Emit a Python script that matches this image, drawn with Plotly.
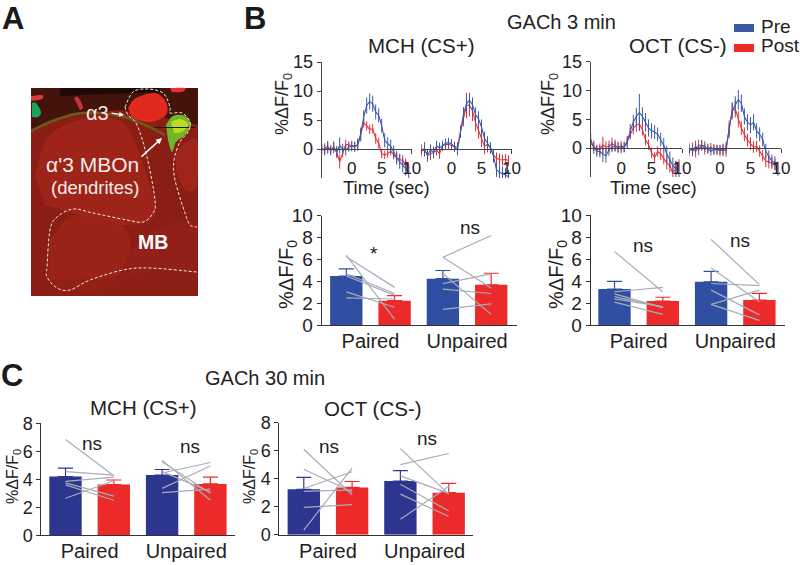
import plotly.graph_objects as go

W, H = 800, 565
FONT = "Liberation Sans"
INK = "#222222"
BLUE_B = "#2f50a2"
BLUE_C = "#2c3590"
RED = "#ec2a2a"
LINE_BLUE = "#3c59a8"
LINE_RED = "#e6303a"
GREY = "#a9adb8"

# ---- time courses (sec, %dF/F0) ----
time_s = [-5, -4.5, -4, -3.5, -3, -2.5, -2, -1.5, -1, -0.5, 0, 0.5, 1, 1.5, 2, 2.5, 3, 3.5, 4, 4.5,
          5, 5.5, 6, 6.5, 7, 7.5, 8, 8.5, 9, 9.5]

mch_paired_pre = [0, -0.2, 0.2, -0.3, 0.3, -0.5, 0.6, 0, -0.2, 0.3, 0.5, 0.4, 0.8, 2.5, 5.5, 7.5, 8.2, 7.8, 6.4, 5.8,
                  4.0, 1.5, 0.9, 0.5, -0.5, -1.5, -2.2, -2.8, -3.3, -4.0]
mch_paired_pre_err = [0.8, 0.9, 1.0, 0.8, 1.0, 1.0, 1.4, 0.9, 0.9, 0.8, 0.9, 0.9, 1.0, 1.2, 1.2, 1.4, 1.4, 1.4, 1.3, 1.2,
                      1.2, 1.2, 1.1, 1.1, 1.1, 1.2, 1.2, 1.2, 1.3, 1.3]
mch_paired_post = [0, 0.1, 0.4, -0.1, 0.3, -0.6, -2.2, -0.5, 0.8, 0.7, 0.6, 0.5, 0.6, 2.5, 4.5, 4.0, 3.4, 3.5, 1.8, 1.0,
                   -0.8, -1.0, -0.8, -0.4, -1.0, -1.5, -1.8, -2.0, -2.6, -3.3]
mch_paired_post_err = [0.8, 0.9, 1.0, 0.8, 0.8, 0.9, 1.2, 0.9, 0.8, 0.6, 0.7, 0.7, 0.9, 0.9, 0.8, 0.8, 0.8, 0.8, 0.9, 0.9,
                       0.8, 0.7, 0.7, 0.7, 0.8, 0.9, 1.0, 1.0, 1.0, 1.0]

mch_unpaired_pre = [0, -0.3, -1.0, -0.2, -0.6, 0.5, 0.2, 0.6, 1.0, 1.1, 0.9, 0.3, -0.2, 3, 6, 7.8, 8.4, 7.6, 6, 5.2,
                    3.8, 1.8, 1, 0.2, -1.2, -3.6, -4.0, -4.2, -4.5, -4.8]
mch_unpaired_pre_err = [0.9, 1.0, 1.0, 1.0, 1.0, 0.9, 0.9, 0.8, 0.8, 0.8, 0.8, 0.8, 0.9, 1.1, 1.2, 1.3, 1.3, 1.3, 1.2, 1.3,
                        1.3, 1.2, 1.1, 1.0, 1.1, 1.2, 1.2, 1.2, 1.2, 1.2]
mch_unpaired_post = [-0.4, 0.1, -1.2, -0.8, -0.6, -0.2, -0.8, 0.5, 0.8, 0.8, 0.6, 0.5, 0.3, 3, 5.5, 7.5, 7.6, 6.6, 4.6, 3.2,
                     1.6, 0.5, 0.8, 0.2, -1, -1.6, -1.8, -1.9, -1.8, -2.0]
mch_unpaired_post_err = [1.0, 1.1, 1.0, 1.1, 1.0, 0.9, 0.9, 0.9, 0.8, 0.8, 0.8, 0.8, 0.9, 1.0, 1.6, 2.2, 2.0, 1.8, 1.6, 1.4,
                         1.3, 1.4, 1.4, 1.0, 1.0, 1.0, 1.0, 0.9, 0.9, 0.9]

oct_paired_pre = [1.5, 0, -0.5, -0.6, -1.0, -1.3, -0.3, 0.2, 0.3, 0.2, 0, 0.2, 1, 3, 4.5, 5.5, 6.2, 5.5, 4.5, 3.5,
                  3, 2.8, 2.4, 1.5, 0.5, -1, -2, -3, -3.6, -3.8]
oct_paired_pre_err = [1.0, 1.0, 1.0, 1.0, 1.4, 1.2, 1.0, 0.9, 0.9, 0.9, 0.9, 0.9, 1.0, 1.2, 1.3, 1.5, 3.2, 1.6, 1.6, 1.5,
                      1.3, 1.2, 1.2, 1.2, 1.3, 1.4, 1.4, 1.4, 1.4, 1.4]
oct_paired_post = [0.8, 0.4, -0.3, -0.2, 0.6, 0.2, 0.3, 0.7, 0.5, 0.1, 0.4, 0.2, 1.2, 2.5, 3.5, 4, 4.2, 3.2, 1.5, 0.6,
                   -0.8, -1.6, -0.6, -1, -1.8, -2.6, -3, -4.4, -3.4, -3]
oct_paired_post_err = [0.8, 0.9, 0.9, 1.0, 1.4, 1.0, 1.0, 1.1, 1.0, 0.9, 0.9, 0.9, 0.9, 1.0, 1.1, 1.2, 1.2, 1.0, 1.0, 0.9,
                       0.9, 0.9, 0.9, 1.0, 1.0, 1.1, 1.2, 1.2, 1.2, 1.1]

oct_unpaired_pre = [0, -0.5, 0.3, -0.3, 0.5, 0.3, -0.2, -0.5, -0.3, -0.2, -0.3, -0.3, 0, 3, 6.5, 7.5, 8.4, 7.8, 5.5, 4.5,
                    4, 4.5, 3, 2.4, 1.5, -0.5, -1.5, -2.2, -2.6, -3.6]
oct_unpaired_pre_err = [0.9, 0.9, 1.0, 0.9, 0.9, 0.9, 0.8, 0.8, 0.8, 0.8, 0.8, 0.9, 1.0, 1.2, 1.3, 1.5, 1.7, 1.5, 1.4, 1.4,
                        1.4, 1.4, 1.3, 1.2, 1.2, 1.2, 1.1, 1.1, 1.2, 1.2]
oct_unpaired_post = [-0.4, 0, -0.6, 0.5, 0.5, -0.2, 0, 0.1, -0.2, -0.3, -0.4, -0.3, -0.4, 3.5, 6.5, 6.8, 5, 3.5, 2.4, 1.4,
                     0.8, 0.2, 0.3, -0.5, -1.3, -2.2, -2.4, -2.6, -2.8, -3.2]
oct_unpaired_post_err = [1.0, 1.0, 1.0, 1.0, 0.9, 0.9, 0.8, 0.8, 0.9, 0.9, 1.0, 1.1, 1.1, 1.3, 1.5, 1.5, 1.4, 1.2, 1.2, 1.1,
                         1.1, 1.0, 1.0, 1.0, 1.0, 1.1, 1.1, 1.0, 0.9, 0.9]

# ---- bar panels: [paired pre, paired post, unpaired pre, unpaired post] ----
bar_positions = [0, 1, 2, 3]
group_names = ["Paired", "Unpaired"]

b_mch_means = [4.5, 2.25, 4.25, 3.7]
b_mch_errs = [0.65, 0.45, 0.75, 1.05]
b_mch_pairs = [(6.26, 3.46), (6.4, 0.55), (4.7, 2.9), (4.5, 2.75), (3.05, 1.65), (2.5, 2.4)]
b_mch_unpairs = [(6.2, 8.2), (6.2, 3.4), (4.7, 1.0), (3.8, 4.7), (3.3, 2.9), (1.45, 1.95)]

b_oct_means = [3.3, 2.2, 3.95, 2.3]
b_oct_errs = [0.7, 0.35, 0.95, 0.6]
b_oct_pairs = [(6.7, 3.05), (3.05, 3.45), (2.85, 1.6), (2.6, 1.65), (2.4, 1.7), (2.1, 1.0)]
b_oct_unpairs = [(7.8, 3.7), (5.2, 2.15), (3.8, 3.6), (3.2, 0.95), (1.9, 3.2), (1.9, 0.45)]

c_mch_means = [4.2, 3.62, 4.3, 3.67]
c_mch_errs = [0.6, 0.33, 0.4, 0.48]
c_mch_pairs = [(6.85, 4.25), (4.55, 4.3), (3.85, 4.15), (3.75, 2.8), (3.6, 2.5), (2.65, 3.9)]
c_mch_unpairs = [(5.35, 2.5), (5.25, 3.0), (4.55, 3.1), (4.45, 5.2), (3.35, 4.95), (3.05, 3.3)]

c_oct_means = [3.24, 3.38, 3.83, 3.0]
c_oct_errs = [0.86, 0.42, 0.74, 0.67]
c_oct_pairs = [(6.1, 2.85), (4.67, 3.05), (3.3, 4.5), (3.1, 3.2), (1.95, 2.15), (0.33, 4.75)]
c_oct_unpairs = [(6.15, 2.9), (5.0, 5.8), (4.2, 2.95), (3.6, 1.7), (2.9, 1.3), (1.1, 3.45)]

fig = go.Figure()
shapes, notes = [], []
axis_count = [0]


def px(x):
    return x / W


def py(y):
    return 1 - y / H


def new_axes(x0, x1, y_top, y_bottom):
    axis_count[0] += 1
    n = axis_count[0]
    xname = "x" if n == 1 else f"x{n}"
    yname = "y" if n == 1 else f"y{n}"
    xkey = "xaxis" if n == 1 else f"xaxis{n}"
    ykey = "yaxis" if n == 1 else f"yaxis{n}"
    return xname, yname, xkey, ykey, [px(x0), px(x1)], [py(y_bottom), py(y_top)]


def text(x, y, s, size, angle=0, bold=False, color=INK, xanchor="center"):
    notes.append(dict(x=px(x), y=py(y), xref="paper", yref="paper", text=f"<b>{s}</b>" if bold else s,
                      showarrow=False, textangle=angle, xanchor=xanchor, yanchor="middle",
                      font=dict(family=FONT, size=size, color=color)))


def time_panel(x0, x1, y_top, y_bottom, pre, pre_err, post, post_err, with_y):
    xname, yname, xkey, ykey, xd, yd = new_axes(x0, x1, y_top, y_bottom)
    for vals, errs, col, nm in [(post, post_err, LINE_RED, "Post"), (pre, pre_err, LINE_BLUE, "Pre")]:
        fig.add_trace(go.Scatter(x=time_s, y=vals, mode="lines", name=nm, xaxis=xname, yaxis=yname, showlegend=False,
                                 cliponaxis=False, line=dict(color=col, width=1.1),
                                 error_y=dict(type="data", array=errs, visible=True, color=col, thickness=1, width=0)))
    zero_pos = py(y_top + (y_bottom - y_top) * 15 / 20)
    fig.update_layout({
        xkey: dict(domain=xd, range=[-5, 10], anchor="free", position=zero_pos, tickmode="array", tickvals=[0, 5, 10],
                   ticktext=["0", "5", "10"], ticks="", ticklabelstandoff=4, showline=True,
                   automargin=False, linecolor="#444444", linewidth=1, showgrid=False, zeroline=False,
                   tickfont=dict(family=FONT, size=17, color=INK),
                   minor=dict(tickmode="array", tickvals=[-5, 10], ticks="outside", ticklen=4, tickcolor="#444444")),
        ykey: dict(domain=yd, range=[-5, 15], anchor=xname, tickmode="array", tickvals=[0, 5, 10, 15], visible=with_y,
                   automargin=False, ticks="outside", ticklen=4, tickcolor="#444444", showline=True, linecolor="#444444",
                   linewidth=1, showgrid=False, zeroline=False, tickfont=dict(family=FONT, size=18, color=INK)),
    })


def bar_panel(x_left, x_right, first_center, spacing, y_top, y_zero, y_max, ticks, means, errs, pairs, unpairs, blue,
              font_size):
    xname, yname, xkey, ykey, xd, yd = new_axes(x_left, x_right, y_top, y_zero)
    colors = [blue, RED, blue, RED]
    fig.add_trace(go.Bar(x=bar_positions, y=means, width=0.67, xaxis=xname, yaxis=yname, showlegend=False,
                         marker=dict(color=colors, line=dict(width=0))))
    for xpos, m, e, c in zip(bar_positions, means, errs, colors):
        fig.add_trace(go.Scatter(x=[xpos], y=[m], mode="markers", marker=dict(size=1, color=c), xaxis=xname, yaxis=yname,
                                 showlegend=False, cliponaxis=False,
                                 error_y=dict(type="data", symmetric=False, array=[e], arrayminus=[0], color=c,
                                              thickness=1.2, width=7.5)))
    for (a, b), offset in [(p, 0) for p in pairs] + [(p, 2) for p in unpairs]:
        fig.add_trace(go.Scatter(x=[bar_positions[offset], bar_positions[offset + 1]], y=[a, b], mode="lines",
                                 xaxis=xname, yaxis=yname, showlegend=False, cliponaxis=False,
                                 line=dict(color=GREY, width=1.2)))
    fig.update_layout({
        xkey: dict(domain=xd, range=[(x_left - first_center) / spacing, (x_right - first_center) / spacing], anchor=yname,
                   automargin=False, tickmode="array", tickvals=[0.5, 2.5], ticktext=group_names, ticks="", showline=True,
                   linecolor="#333333", linewidth=1, showgrid=False, zeroline=False, ticklabelstandoff=-2,
                   tickfont=dict(family=FONT, size=20, color=INK)),
        ykey: dict(domain=yd, range=[0, y_max], anchor=xname, tickmode="array", tickvals=ticks, ticks="outside", ticklen=4,
                   automargin=False, tickcolor="#333333", showline=True, linecolor="#333333", linewidth=1, showgrid=False,
                   zeroline=False, tickfont=dict(family=FONT, size=font_size, color=INK)),
    })


# Panel B time courses
time_panel(321.7, 411.7, 62, 178, mch_paired_pre, mch_paired_pre_err, mch_paired_post, mch_paired_post_err, True)
time_panel(421.5, 511.5, 62, 178, mch_unpaired_pre, mch_unpaired_pre_err, mch_unpaired_post, mch_unpaired_post_err, False)
time_panel(590.7, 682, 61.7, 177, oct_paired_pre, oct_paired_pre_err, oct_paired_post, oct_paired_post_err, True)
time_panel(689.5, 781, 61.7, 177, oct_unpaired_pre, oct_unpaired_pre_err, oct_unpaired_post, oct_unpaired_post_err, False)

# Panel B bars
bar_panel(321.7, 516.7, 346.3, 48.3, 215.7, 325.3, 10, [0, 2, 4, 6, 8, 10], b_mch_means, b_mch_errs, b_mch_pairs,
          b_mch_unpairs, BLUE_B, 19)
bar_panel(590.7, 785, 614.5, 48.3, 215.3, 325.3, 10, [0, 2, 4, 6, 8, 10], b_oct_means, b_oct_errs, b_oct_pairs,
          b_oct_unpairs, BLUE_B, 19)

# Panel C bars
bar_panel(41.3, 235, 65.5, 48.3, 423.3, 535.3, 8, [0, 2, 4, 6, 8], c_mch_means, c_mch_errs, c_mch_pairs, c_mch_unpairs,
          BLUE_C, 18)
bar_panel(279.3, 473.3, 303.8, 48.3, 422.7, 534.7, 8, [0, 2, 4, 6, 8], c_oct_means, c_oct_errs, c_oct_pairs,
          c_oct_unpairs, BLUE_C, 18)

# Text
for s, x, y in [("A", 13, 18), ("B", 255, 18), ("C", 12, 375)]:
    text(x, y, s, 31, bold=True, color="#1a1a1a")
text(561, 22, "GACh 3 min", 20)
text(420.7, 45, "MCH (CS+)", 20.5)
text(677.7, 45, "OCT (CS-)", 20.5)
text(386, 188, "Time (sec)", 18.5)
text(653, 188, "Time (sec)", 18.5)
text(265, 378, "GACh 30 min", 20)
text(142.7, 407.5, "MCH (CS+)", 20.5)
text(373, 408, "OCT (CS-)", 20.5)
ytitle = "%ΔF/F<sub>0</sub>"
text(283, 104, ytitle, 18, angle=-90)
text(549, 104, ytitle, 18, angle=-90)
text(287, 275, ytitle, 20, angle=-90)
text(557, 275, ytitle, 20, angle=-90)
text(13, 477, ytitle, 16, angle=-90)
text(250, 477, ytitle, 16, angle=-90)
for x, y, s in [(470, 227, "ns"), (374, 253, "*"), (643, 246, "ns"), (740, 240, "ns"), (92, 443, "ns"), (190, 446, "ns"),
                (329, 446, "ns"), (427, 438, "ns")]:
    text(x, y, s, 19)

# Legend
shapes.append(dict(type="rect", xref="paper", yref="paper", x0=px(734), x1=px(754), y0=py(32), y1=py(24),
                   fillcolor=LINE_BLUE, line=dict(width=0)))
shapes.append(dict(type="rect", xref="paper", yref="paper", x0=px(734), x1=px(754), y0=py(52), y1=py(44),
                   fillcolor=RED, line=dict(width=0)))
text(759, 27, "Pre", 19, xanchor="left")
text(759, 45, "Post", 19, xanchor="left")


# Micrograph illustration (panel A), drawn as vector shapes
def p_path(points, close=False):
    """Smooth Catmull-Rom path through picture points."""
    pts = [(px(x), py(y)) for x, y in points]
    d = f"M{pts[0][0]:.5f},{pts[0][1]:.5f}"
    for i in range(len(pts) - 1):
        p0 = pts[max(i - 1, 0)]
        p1 = pts[i]
        p2 = pts[i + 1]
        p3 = pts[min(i + 2, len(pts) - 1)]
        c1 = (p1[0] + (p2[0] - p0[0]) / 6, p1[1] + (p2[1] - p0[1]) / 6)
        c2 = (p2[0] - (p3[0] - p1[0]) / 6, p2[1] - (p3[1] - p1[1]) / 6)
        d += f" C{c1[0]:.5f},{c1[1]:.5f} {c2[0]:.5f},{c2[1]:.5f} {p2[0]:.5f},{p2[1]:.5f}"
    return d + (" Z" if close else "")


def blob(points, color, opacity=1.0):
    shapes.append(dict(type="path", xref="paper", yref="paper", path=p_path(points, True), fillcolor=color,
                       opacity=opacity, line=dict(width=0), layer="below"))


def dashed(points):
    shapes.append(dict(type="path", xref="paper", yref="paper", path=p_path(points), fillcolor="rgba(0,0,0,0)",
                       line=dict(color="#f2e6e0", width=1, dash="3px,2px")))


def poly(points, color, opacity=1.0):
    d = "M" + " L".join(f"{px(x):.5f},{py(y):.5f}" for x, y in points) + " Z"
    shapes.append(dict(type="path", xref="paper", yref="paper", path=d, fillcolor=color, opacity=opacity,
                       line=dict(width=0), layer="below"))


poly([(31, 88), (198, 88), (198, 296), (31, 296)], "#8b1e14")
poly([(31, 88), (198, 88), (198, 125), (165, 118), (120, 110), (70, 114), (31, 130)], "#44140c")
poly([(60, 88), (160, 88), (160, 92), (60, 96)], "#1d0a06")
blob([(35, 175), (50, 135), (90, 118), (125, 125), (145, 170), (155, 215), (120, 225), (80, 215), (45, 205)], "#a3261a", 0.8)
blob([(50, 240), (75, 215), (120, 225), (130, 250), (110, 285), (70, 292), (48, 280)], "#9e2418", 0.8)
blob([(130, 250), (165, 225), (197, 225), (197, 268), (150, 272), (120, 280)], "#96201a", 0.7)
blob([(176, 150), (197, 140), (197, 185), (185, 190), (176, 170)], "#a4261a", 0.8)
blob([(50, 280), (100, 278), (150, 274), (196, 274), (196, 295), (50, 295)], "#8f2016", 0.7)
blob([(128, 108), (136, 98), (155, 93), (166, 102), (166, 115), (150, 122), (132, 118)], "#e02a1e")
blob([(170, 88), (185, 88), (182, 92), (172, 92)], "#e8303a")
blob([(31, 96), (42, 95), (42, 99), (31, 101)], "#d93a3a")
blob([(74, 98), (78, 97), (83, 107), (80, 110)], "#c8333a")
blob([(32, 103), (36, 103), (41, 112), (38, 117), (32, 117)], "#1fa35a")
blob([(166, 125), (173, 116), (185, 116), (191, 125), (185, 135), (176, 142), (172, 152), (168, 140)], "#72b52a")
blob([(171, 122), (180, 119), (188, 124), (182, 132), (174, 133)], "#b8dc1e")
shapes.append(dict(type="path", xref="paper", yref="paper", fillcolor="rgba(0,0,0,0)", layer="below",
                   path=p_path([(31, 131), (50, 122), (75, 114), (100, 113), (125, 117), (145, 125), (165, 135)]),
                   line=dict(color="#6b5a20", width=2.5)))
# white mask trims everything that spills out of the picture frame
poly([(198, 80), (225, 80), (225, 305), (198, 305)], "#ffffff")
poly([(25, 296), (225, 296), (225, 305), (25, 305)], "#ffffff")
poly([(20, 80), (31, 80), (31, 305), (20, 305)], "#ffffff")
shapes.append(dict(type="line", xref="paper", yref="paper", x0=px(154), x1=px(196), y0=py(127.5), y1=py(127.5),
                   line=dict(color="#1a1a10", width=1.2)))
dashed([(125, 107), (133, 92), (147, 89), (163, 93), (170, 107), (170, 113), (182, 113), (190, 122), (188, 132), (180, 142),
        (174, 160), (175, 180), (185, 213), (190, 225), (197, 227)])
dashed([(125, 107), (128, 115), (137, 125), (147, 157), (155, 200), (153, 213), (143, 222), (127, 220), (93, 213), (73, 209),
        (57, 217), (50, 230), (47, 267), (47, 277), (57, 288), (70, 290), (90, 280), (123, 270), (150, 268), (197, 272)])

# Arrows of panel A (ax/ay are pixel offsets from the head)
notes.append(dict(x=px(124), y=py(115), ax=-14, ay=-2, xref="paper", yref="paper", axref="pixel", ayref="pixel",
                  text="", showarrow=True, arrowhead=2, arrowsize=0.8, arrowwidth=1.2, arrowcolor="#ffffff"))
notes.append(dict(x=px(162), y=py(138), ax=-22, ay=20, xref="paper", yref="paper", axref="pixel", ayref="pixel",
                  text="", showarrow=True, arrowhead=2, arrowsize=0.8, arrowwidth=1.5, arrowcolor="#ffffff"))
text(97, 113, "α3", 20, color="#f5ece8")
text(92, 164, "α'3 MBOn", 21, color="#f5ece8")
text(95, 187, "(dendrites)", 18.5, color="#f5ece8")
text(153, 242, "MB", 19.5, bold=True, color="#ffffff")

fig.update_layout(template="none", width=W, height=H, margin=dict(l=0, r=0, t=0, b=0, pad=0), paper_bgcolor="white",
                  plot_bgcolor="rgba(0,0,0,0)", showlegend=False, barmode="overlay", shapes=shapes, annotations=notes)
fig.write_html("out.html", config={"displayModeBar": False}, post_script="document.body.style.margin='0';")
